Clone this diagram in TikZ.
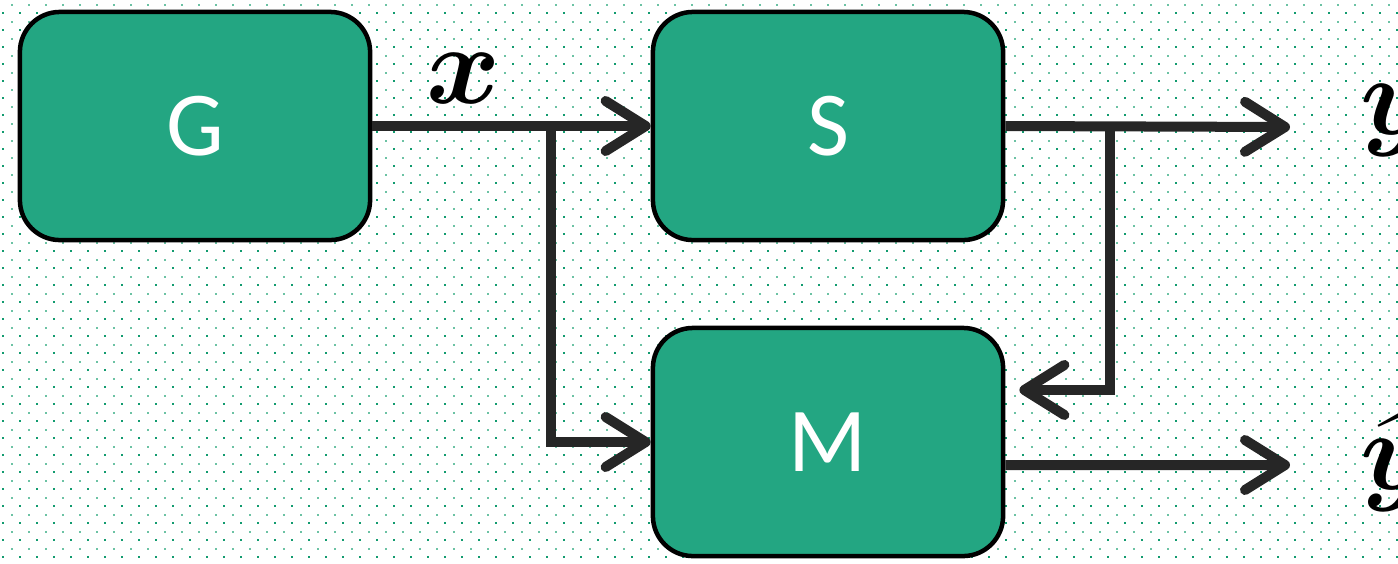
\RequirePackage{fix-cm}
\documentclass[tikz,border=0pt]{standalone}
\usepackage{amsmath}
\usepackage{fontspec}
\setmainfont{Carlito}
\usetikzlibrary{arrows.meta, positioning}
\definecolor{caja}{HTML}{23A682}
\definecolor{linea}{HTML}{262626}
\definecolor{puntoa}{HTML}{129B6F}
\definecolor{puntob}{HTML}{6CC2A4}
\tikzset{
	bloque/.style={draw=black, line width=0.045cm, fill=caja, rounded corners=0.4cm,
		minimum width=3.5cm, minimum height=2.28cm, text=white,
		font=\fontsize{26}{30}\selectfont},
	flecha/.style={draw=linea, line width=0.1cm,
		-{Straight Barb[round, length=0.4cm, width=0.5cm]}},
	etiqueta/.style={font=\boldmath\fontsize{32}{38}\selectfont, inner sep=0pt}
}
\begin{document}
\begin{tikzpicture}[x=0.01cm, y=-0.01cm]
			
			\useasboundingbox (0,0) rectangle (1398,563);
			
			% Fondo punteado
			\foreach \r in {0,...,66} {
				\ifodd\r \def\pc{puntoa}\def\off{3}\else\def\pc{puntob}\def\off{11.5}\fi
				\foreach \c in {0,...,82}
					\fill[fill=\pc] (\c*17+\off-1, \r*8.5+3.5) rectangle ++(2,2);
			}
			
			% Dibujar nodos
			\node[bloque] (G) at (195,126) {G};
			\node[bloque] (S) at (828,126) {S};
			\node[bloque] (M) at (828,442) {M};
			
			\coordinate (bx) at (551,127);
			\coordinate (by) at (1110,127);
			\coordinate (yout) at (1290,127);
			\coordinate (yhout) at (1290,465);
			
			% Dibujar las flechas
			\draw[flecha] (G.east) -- (S.west);
			\draw[flecha] (bx) |- (M.west);
			\draw[flecha] (S.east) -- (yout);
			\draw[flecha, shorten >=0.14cm] (by) |- ([yshift=0.52cm]M.east);
			\draw[flecha] ([yshift=-0.23cm]M.east) -- (yhout);
			
			% Etiquetas
			\node[etiqueta, anchor=base west] (lx) at (426,103) {$x$};
			\node[etiqueta, anchor=base west] (ly) at (1360,134) {$y$};
			\node[etiqueta, anchor=base west] (lyh) at (1360,489) {$\widehat{y}$};
			
		\end{tikzpicture}
\end{document}
